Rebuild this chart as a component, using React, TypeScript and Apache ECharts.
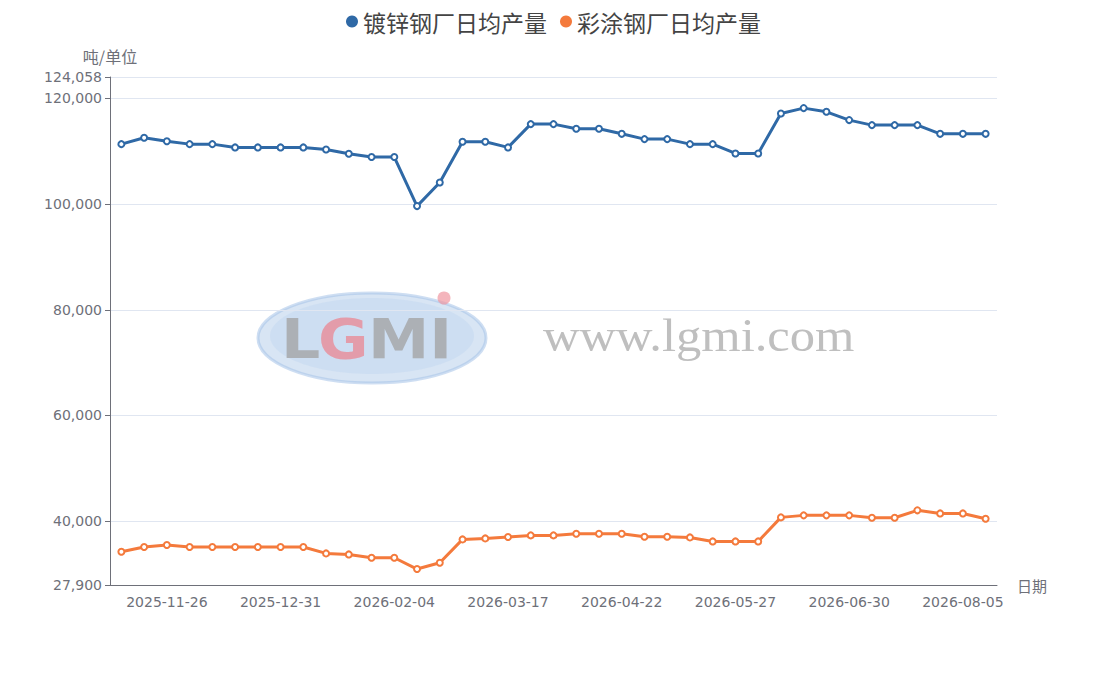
import React, { useEffect, useRef } from "react";
import * as echarts from "echarts";

const categories: string[] = [
  "2025-11-12", "2025-11-19", "2025-11-26", "2025-12-03", "2025-12-10", "2025-12-17",
  "2025-12-24", "2025-12-31", "2026-01-07", "2026-01-14", "2026-01-21", "2026-01-28",
  "2026-02-04", "2026-02-11", "2026-02-25", "2026-03-04", "2026-03-11", "2026-03-17",
  "2026-03-25", "2026-04-01", "2026-04-08", "2026-04-15", "2026-04-22", "2026-04-29",
  "2026-05-06", "2026-05-13", "2026-05-20", "2026-05-27", "2026-06-03", "2026-06-10",
  "2026-06-17", "2026-06-24", "2026-06-30", "2026-07-08", "2026-07-15", "2026-07-22",
  "2026-07-29", "2026-08-05", "2026-08-12",
];

const galvanized: number[] = [
  111350, 112550, 111900, 111350, 111350, 110730, 110730, 110730, 110730, 110350,
  109520, 108900, 108900, 99620, 104100, 111790, 111790, 110730, 115140, 115140,
  114250, 114250, 113300, 112300, 112300, 111350, 111350, 109590, 109590, 117160,
  118170, 117470, 115900, 114950, 114950, 114950, 113300, 113300, 113300,
];

const coated: number[] = [
  34190, 35080, 35460, 35080, 35080, 35080, 35080, 35080, 35080, 33880,
  33690, 33060, 33060, 30920, 32120, 36530, 36720, 36970, 37290, 37290,
  37600, 37600, 37600, 37030, 37030, 36910, 36150, 36150, 36150, 40700,
  41080, 41080, 41080, 40630, 40630, 42030, 41450, 41450, 40440,
];

const seriesNames: string[] = ["镀锌钢厂日均产量", "彩涂钢厂日均产量"];
const yMin = 27900;
const yMax = 124058;

const FONT = "'Noto Sans CJK SC', 'Noto Sans', sans-serif";
const NUM_FONT = "'DejaVu Sans', 'Noto Sans CJK SC', sans-serif";
const LOGO_FONT = "bold 56px 'DejaVu Sans', sans-serif";

export default function App() {
  const ref = useRef<HTMLDivElement>(null);

  useEffect(() => {
    document.body.style.margin = "0";
    if (!ref.current) return;
    const chart = echarts.init(ref.current, undefined, { renderer: "svg" });
    const labelInterval = (i: number) => i % 5 === 2;
    chart.setOption({
      animation: false,
      textStyle: { fontFamily: FONT },
      color: ["#2f69a6", "#f47a3c"],
      legend: {
        top: 5,
        left: "center",
        icon: "circle",
        itemWidth: 12,
        itemHeight: 12,
        itemGap: 13,
        textStyle: { fontSize: 23, color: "#444", fontFamily: FONT },
        data: seriesNames,
      },
      grid: { left: 110, right: 110, top: 77, bottom: 90, containLabel: false },
      graphic: [
        {
          type: "group",
          silent: true,
          z: 0,
          children: [
            {
              type: "ellipse",
              shape: { cx: 372, cy: 338, rx: 114, ry: 45 },
              style: { fill: "rgba(178,204,234,0.5)", stroke: "rgba(165,195,232,0.55)", lineWidth: 3 },
            },
            {
              type: "ellipse",
              shape: { cx: 372, cy: 336, rx: 102, ry: 38 },
              style: { fill: "rgba(196,216,240,0.55)" },
            },
            {
              type: "text",
              x: 281,
              y: 310,
              scaleX: 1.1,
              style: { text: "L", font: LOGO_FONT, fill: "rgba(160,160,160,0.75)" },
            },
            {
              type: "text",
              x: 318,
              y: 310,
              scaleX: 1.1,
              style: { text: "G", font: LOGO_FONT, fill: "rgba(236,128,140,0.7)" },
            },
            {
              type: "text",
              x: 368,
              y: 310,
              scaleX: 1.1,
              style: { text: "MI", font: LOGO_FONT, fill: "rgba(160,160,160,0.75)" },
            },
            {
              type: "circle",
              shape: { cx: 444, cy: 298, r: 6.5 },
              style: { fill: "rgba(240,150,160,0.7)" },
            },
            {
              type: "text",
              x: 543,
              y: 312,
              scaleX: 1.1,
              style: { text: "www.lgmi.com", font: "46px 'Liberation Serif', 'DejaVu Serif', serif", fill: "rgba(175,175,175,0.8)" },
            },
          ],
        },
      ],
      xAxis: {
        type: "category",
        data: categories,
        boundaryGap: true,
        name: "日期",
        nameGap: 20,
        nameTextStyle: { fontSize: 15, color: "#6e7079" },
        axisLine: { lineStyle: { color: "#6e7079" } },
        axisTick: { interval: labelInterval },
        axisLabel: { interval: labelInterval, fontSize: 14, fontFamily: NUM_FONT, color: "#6e7079", margin: 10 },
      },
      yAxis: {
        type: "value",
        min: yMin,
        max: yMax,
        splitNumber: 5,
        name: "吨/单位",
        nameGap: 13,
        nameTextStyle: { fontSize: 16, color: "#6e7079" },
        axisLine: { show: true, lineStyle: { color: "#6e7079" } },
        axisTick: { show: true },
        axisLabel: { fontSize: 14, fontFamily: NUM_FONT, color: "#6e7079", margin: 8 },
        splitLine: { lineStyle: { color: "#e0e6f1" } },
      },
      series: [
        {
          name: seriesNames[0],
          type: "line",
          data: galvanized,
          symbol: "emptyCircle",
          symbolSize: 6,
          lineStyle: { width: 3 },
          itemStyle: { borderWidth: 2 },
          z: 3,
        },
        {
          name: seriesNames[1],
          type: "line",
          data: coated,
          symbol: "emptyCircle",
          symbolSize: 6,
          lineStyle: { width: 3 },
          itemStyle: { borderWidth: 2 },
          z: 3,
        },
      ],
    });
    return () => chart.dispose();
  }, []);

  return <div ref={ref} style={{ width: 1107, height: 675 }} />;
}
